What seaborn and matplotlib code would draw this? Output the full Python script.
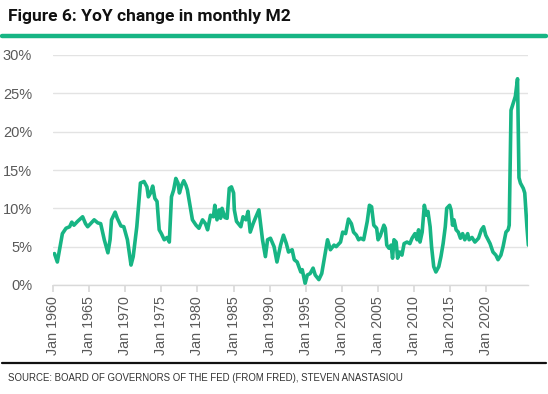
import matplotlib
matplotlib.use("Agg")
import matplotlib.pyplot as plt
from matplotlib.lines import Line2D
import seaborn as sns
import pandas as pd

# Series (x in chart years, y in % YoY)
years = [
    1960.2, 1960.6, 1960.9, 1961.3, 1961.8, 1962.3, 1962.6, 1962.9, 1963.4, 1964.1,
    1964.5, 1964.8, 1965.7, 1966.2, 1966.6, 1967.1, 1967.6, 1967.9, 1968.1, 1968.6,
    1968.9, 1969.4, 1969.8, 1970.3, 1970.8, 1971.1, 1971.6, 1972.1, 1972.6, 1973.0,
    1973.2, 1973.5, 1973.8, 1974.1, 1974.4, 1974.7, 1975.0, 1975.4, 1975.8, 1976.1,
    1976.4, 1976.7, 1977.0, 1977.3, 1977.5, 1977.8, 1978.1, 1978.4, 1978.6, 1979.0,
    1979.3, 1979.8, 1980.2, 1980.7, 1981.1, 1981.4, 1981.8, 1982.2, 1982.4, 1982.7,
    1983.0, 1983.2, 1983.4, 1983.8, 1984.1, 1984.4, 1984.7, 1985.0, 1985.1, 1985.4,
    1986.0, 1986.3, 1986.7, 1987.0, 1987.3, 1987.7, 1988.0, 1988.5, 1989.0, 1989.4,
    1989.7, 1990.1, 1990.6, 1991.0, 1991.5, 1991.9, 1992.3, 1992.6, 1993.1, 1993.4,
    1993.8, 1994.3, 1994.5, 1994.9, 1995.2, 1995.6, 1996.0, 1996.3, 1996.8, 1997.2,
    1997.6, 1998.0, 1998.4, 1998.9, 1999.2, 1999.8, 2000.1, 2000.5, 2000.9, 2001.3,
    2001.6, 2002.0, 2002.3, 2002.6, 2003.0, 2003.5, 2003.8, 2004.1, 2004.4, 2004.8,
    2005.0, 2005.3, 2005.8, 2006.0, 2006.2, 2006.5, 2006.8, 2007.0, 2007.2, 2007.5,
    2007.7, 2008.0, 2008.3, 2008.6, 2009.0, 2009.4, 2009.7, 2010.1, 2010.4, 2010.6,
    2010.8, 2011.1, 2011.4, 2011.7, 2011.9, 2012.2, 2012.4, 2012.7, 2013.0, 2013.4,
    2013.7, 2014.0, 2014.3, 2014.5, 2014.9, 2015.1, 2015.3, 2015.5, 2015.8, 2016.1,
    2016.4, 2016.7, 2017.0, 2017.4, 2017.6, 2018.0, 2018.4, 2018.9, 2019.3, 2019.6,
    2019.9, 2020.5, 2020.9, 2021.3, 2021.6, 2022.0, 2022.3, 2022.7, 2023.0, 2023.15,
    2023.4, 2023.7, 2024.0, 2024.3, 2024.5, 2024.7, 2025.1, 2025.3, 2025.6, 2025.8,
]
m2_yoy = [
    4.1, 3.0, 4.6, 6.7, 7.4, 7.6, 8.2, 7.8, 8.3, 8.9,
    8.0, 7.6, 8.5, 8.1, 8.0, 5.9, 4.2, 5.9, 8.5, 9.5,
    8.7, 7.7, 7.6, 5.9, 2.6, 3.7, 7.6, 13.3, 13.5, 12.8,
    11.5, 12.0, 12.9, 11.3, 10.9, 7.2, 6.7, 5.9, 6.2, 5.6,
    11.5, 12.4, 13.9, 13.3, 12.0, 13.0, 13.6, 13.0, 12.4, 10.2,
    8.5, 7.8, 7.4, 8.5, 8.0, 7.2, 9.1, 8.9, 10.4, 8.5,
    9.8, 8.7, 10.0, 8.8, 8.7, 12.6, 12.8, 12.0, 9.8, 8.3,
    7.6, 8.9, 8.5, 9.6, 6.9, 8.0, 8.7, 9.8, 5.9, 3.7,
    5.9, 6.1, 5.0, 3.0, 5.2, 6.5, 5.4, 4.3, 4.6, 3.3,
    3.0, 1.7, 2.0, 0.2, 1.3, 1.5, 2.2, 1.3, 0.7, 1.5,
    3.7, 5.9, 4.6, 5.2, 5.0, 5.6, 6.9, 6.7, 8.6, 8.0,
    6.9, 6.5, 5.9, 6.1, 5.9, 8.3, 10.4, 10.2, 7.8, 7.4,
    5.9, 6.4, 7.8, 7.4, 5.2, 4.8, 5.2, 3.5, 5.9, 5.6,
    3.5, 4.3, 3.9, 5.4, 5.6, 5.4, 6.1, 6.7, 5.9, 7.2,
    5.6, 6.9, 10.4, 9.1, 9.6, 7.6, 5.0, 2.4, 1.7, 2.4,
    3.7, 5.4, 7.6, 10.0, 10.4, 9.8, 7.8, 8.5, 7.2, 6.9,
    6.1, 6.7, 5.9, 6.7, 5.9, 6.2, 5.6, 6.1, 7.2, 7.6,
    6.5, 5.4, 4.3, 3.9, 3.3, 3.9, 5.0, 6.9, 7.2, 7.8,
    22.8, 23.7, 24.6, 26.9, 14.0, 13.3, 12.6, 12.0, 7.6, 5.2,
]
tick_years = list(range(1960, 2021, 5))
tick_labels = [f"Jan {y}" for y in tick_years]
y_ticks = [0, 5, 10, 15, 20, 25, 30]

df = pd.DataFrame({"year": years, "yoy": m2_yoy})

sns.set_theme(style="white")
plt.rcParams["font.family"] = ["Liberation Sans", "DejaVu Sans"]

GREEN = "#17b584"
fig = plt.figure(figsize=(5.48, 3.94), dpi=100)
ax = fig.add_axes([53 / 548, 1 - 285 / 394, 475 / 548, 230 / 394])

sns.lineplot(data=df, x="year", y="yoy", ax=ax, color=GREEN, linewidth=2.6)

ax.set_xlim(1960, 2025.75)
ax.set_ylim(0, 30)
ax.set_yticks(y_ticks)
ax.set_yticklabels([f"{v}%" for v in y_ticks], color="#595959", fontsize=10.5)
ax.set_xticks(tick_years)
ax.set_xticklabels(tick_labels, rotation=90, color="#595959", fontsize=10.3)
ax.set_xlabel("")
ax.set_ylabel("")

# horizontal gridlines only
ax.yaxis.grid(True, color="#e3e3e3", linewidth=1)
ax.xaxis.grid(False)
ax.set_axisbelow(True)
for side in ["top", "right", "left"]:
    ax.spines[side].set_visible(False)
ax.spines["bottom"].set_color("#d9d9d9")
ax.spines["bottom"].set_linewidth(1)
ax.tick_params(axis="x", bottom=True, length=5, color="#d9d9d9", pad=3)
ax.tick_params(axis="y", left=False, pad=9)

# header / footer decoration
fig.text(8 / 548, 1 - 16 / 394, "Figure 6: YoY change in monthly M2",
         fontsize=12.5, fontweight="bold", color="#111111", va="center",
         family=["Roboto", "DejaVu Sans"])
fig.add_artist(Line2D([2 / 548, 546 / 548], [1 - 35.5 / 394, 1 - 35.5 / 394],
                      color=GREEN, linewidth=3.2, transform=fig.transFigure))
fig.add_artist(Line2D([2 / 548, 546 / 548], [1 - 363 / 394, 1 - 363 / 394],
                      color="#111111", linewidth=1.6, transform=fig.transFigure))
fig.text(8 / 548, 1 - 378 / 394,
         "SOURCE: BOARD OF GOVERNORS OF THE FED (FROM FRED), STEVEN ANASTASIOU",
         fontsize=6.9, color="#333333", va="center")

fig.savefig("out.png", dpi=100)
